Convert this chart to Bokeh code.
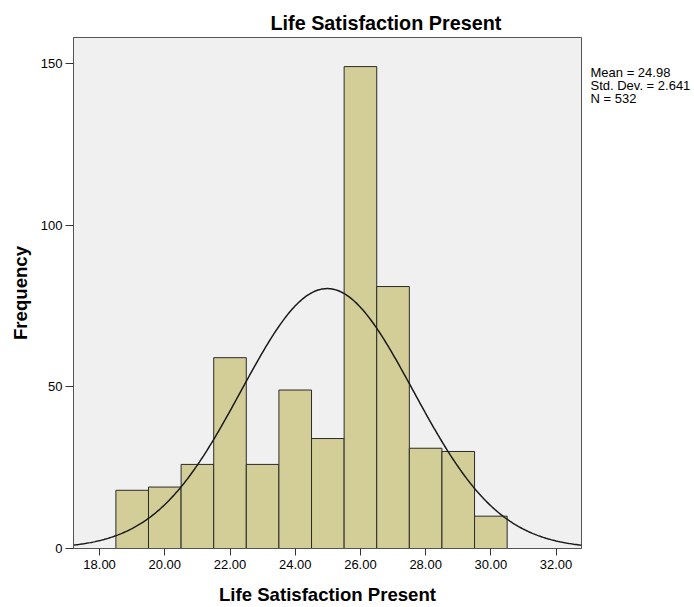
import numpy as np
from bokeh.plotting import figure
from bokeh.models import Range1d, FixedTicker, Label, ColumnDataSource
from bokeh.embed import file_html
from bokeh.resources import INLINE

# ---- data ----
bin_left = [18.5, 19.5, 20.5, 21.5, 22.5, 23.5, 24.5, 25.5, 26.5, 27.5, 28.5, 29.5]
counts = [18, 19, 26, 59, 26, 49, 34, 149, 81, 31, 30, 10]
bin_width = 1.0
mean = 24.98
std_dev = 2.641
n_obs = 532
x_ticks = [18, 20, 22, 24, 26, 28, 30, 32]
x_tick_labels = ["18.00", "20.00", "22.00", "24.00", "26.00", "28.00", "30.00", "32.00"]
y_ticks = [0, 50, 100, 150]
stats_lines = ["Mean = 24.98", "Std. Dev. = 2.641", "N = 532"]
title_text = "Life Satisfaction Present"
x_label = "Life Satisfaction Present"
y_label = "Frequency"

X_MIN, X_MAX = 17.2, 32.78
Y_MIN, Y_MAX = 0, 158

FONT = "Liberation Sans"

p = figure(width=694, height=607,
           x_range=Range1d(X_MIN, X_MAX), y_range=Range1d(Y_MIN, Y_MAX),
           output_backend="svg", toolbar_location=None, title=title_text)

p.min_border_left = 73
p.min_border_right = 113
p.min_border_top = 37
p.min_border_bottom = 59

p.background_fill_color = "#f0f0f0"
p.border_fill_color = "white"
p.outline_line_color = "#555555"
p.outline_line_width = 1
p.grid.visible = False

# title
p.title.align = "left"
p.title.offset = 197
p.title.text_font = FONT
p.title.text_font_size = "19.8px"
p.title.text_font_style = "bold"
p.title.text_color = "black"
p.title.standoff = 8

# bars
src = ColumnDataSource(dict(
    left=bin_left,
    right=[b + bin_width for b in bin_left],
    top=counts,
    bottom=[0] * len(counts),
))
p.quad(left="left", right="right", top="top", bottom="bottom", source=src,
       fill_color="#d3ce97", line_color="#2b2b2b", line_width=1)

# normal curve from the reported statistics
xs = np.linspace(X_MIN, X_MAX, 400)
ys = n_obs * bin_width * np.exp(-0.5 * ((xs - mean) / std_dev) ** 2) / (std_dev * np.sqrt(2 * np.pi))
p.line(xs, ys, line_color="#1a1a1a", line_width=1.5)

# axes
for ax in (p.xaxis, p.yaxis):
    ax.axis_line_color = "#555555"
    ax.major_tick_line_color = "#333333"
    ax.minor_tick_line_color = None
    ax.major_tick_in = 0
    ax.major_label_text_font = FONT
    ax.major_label_text_font_size = "13px"
    ax.major_label_text_color = "black"
    ax.axis_label_text_font = FONT
    ax.axis_label_text_font_size = "18.6px"
    ax.axis_label_text_font_style = "bold"
    ax.axis_label_text_color = "black"

p.xaxis.ticker = FixedTicker(ticks=x_ticks)
p.xaxis.major_label_overrides = {t: l for t, l in zip(x_ticks, x_tick_labels)}
p.xaxis.major_tick_out = 7
p.xaxis.major_label_standoff = 4
p.xaxis.axis_label = x_label
p.xaxis.axis_label_standoff = 12

p.yaxis.ticker = FixedTicker(ticks=y_ticks)
p.yaxis.major_tick_out = 8
p.yaxis.major_label_standoff = 3
p.yaxis.axis_label = y_label
p.yaxis.axis_label_standoff = 7

# stats annotation placed in the right side panel
stats = Label(x=9, y=484, x_units="screen", y_units="screen",
              text="\n".join(stats_lines), text_font=FONT, text_font_size="13px",
              text_line_height=0.87, text_color="black",
              text_baseline="top", text_align="left")
p.add_layout(stats, "right")

open("out.html", "w").write(file_html(p, INLINE))
